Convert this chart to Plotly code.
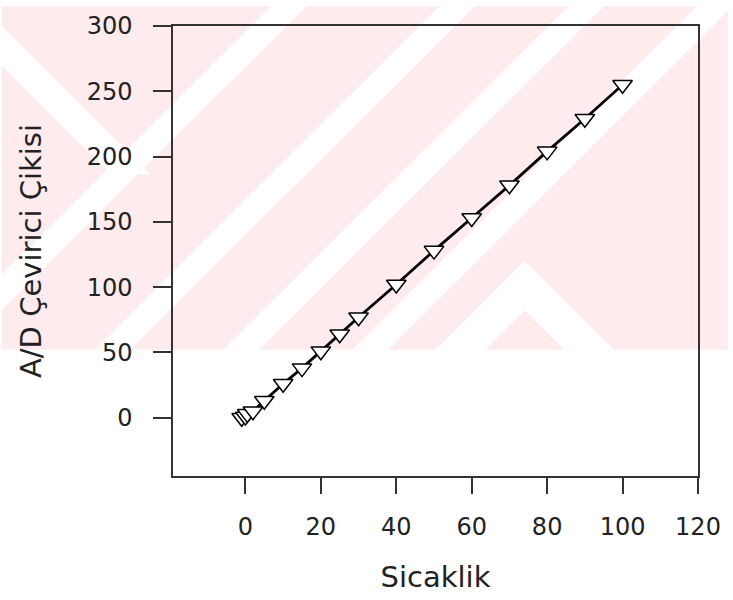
import plotly.graph_objects as go

# Data
sicaklik = [-1, 0, 0.5, 2, 5, 10, 15, 20, 25, 30, 40, 50, 60, 70, 80, 90, 100]
ad_cikisi = [0, 1, 3, 5, 13, 26, 38, 51, 64, 77, 102, 128, 153, 178, 204, 229, 255]
x_ticks = [0, 20, 40, 60, 80, 100, 120]
y_ticks = [0, 50, 100, 150, 200, 250, 300]

W, H = 733, 600
L, R, T, B = 173, 703, 20, 476


def px(x, y):
    return (x - L) / (R - L), (B - y) / (B - T)


def poly(points):
    pts = [px(x, y) for x, y in points]
    return "M " + " L ".join(f"{a:.5f},{b:.5f}" for a, b in pts) + " Z"


PINK = "#fdebee"
PB = 348
shapes = [dict(type="path", xref="paper", yref="paper", layer="below",
               path=poly([(0, 0), (W, 0), (W, PB), (0, PB)]),
               fillcolor=PINK, line=dict(width=0))]
wst = 36
for c in [290, 460, 590, 720]:
    shapes.append(dict(type="path", xref="paper", yref="paper", layer="below",
                       path=poly([(c - wst / 2, 0), (c + wst / 2, 0),
                                  (c + wst / 2 - PB, PB), (c - wst / 2 - PB, PB)]),
                       fillcolor="white", line=dict(width=0)))
# white chevron (lower right)
ax, ay = 528, 258
shapes.append(dict(type="path", xref="paper", yref="paper", layer="below",
                   path=poly([(ax, ay), (ax + PB - ay, PB), (ax + PB - ay - 50, PB), (ax, ay + 50),
                              (ax - PB + ay + 50, PB), (ax - PB + ay, PB)]),
                   fillcolor="white", line=dict(width=0)))
# white band on the left side
shapes.append(dict(type="path", xref="paper", yref="paper", layer="below",
                   path=poly([(0, 20), (0, 60), (110, 170), (150, 170)]),
                   fillcolor="white", line=dict(width=0)))

fig = go.Figure()
fig.add_trace(go.Scatter(
    x=sicaklik, y=ad_cikisi, mode="lines+markers",
    line=dict(color="black", width=2.8),
    marker=dict(symbol="triangle-down", size=17, color="white",
                line=dict(color="black", width=1.5)),
    showlegend=False,
))

font = dict(family="DejaVu Sans, Arial, sans-serif", size=24, color="#222")
fig.update_layout(
    width=W, height=H,
    margin=dict(l=L, r=W - R, t=T, b=H - B),
    paper_bgcolor="white", plot_bgcolor="rgba(0,0,0,0)",
    shapes=shapes,
    font=font,
    xaxis=dict(range=[-19.2, 120], tickvals=x_ticks, ticks="outside", ticklen=16,
               tickwidth=1.5, tickcolor="#333", showgrid=False, zeroline=False,
               showline=True, linecolor="#333", linewidth=1.5, mirror=True,
               ticklabelstandoff=12,
               title=dict(text="Sicaklik", font=dict(size=29), standoff=27)),
    yaxis=dict(range=[-44.6, 300], tickvals=y_ticks, ticks="outside", ticklen=18,
               tickwidth=1.5, tickcolor="#333", showgrid=False, zeroline=False,
               showline=True, linecolor="#333", linewidth=1.5, mirror=True,
               ticklabelstandoff=16,
               title=dict(text="A/D Çevirici Çikisi", font=dict(size=29), standoff=36)),
)

fig.write_html("out.html")
